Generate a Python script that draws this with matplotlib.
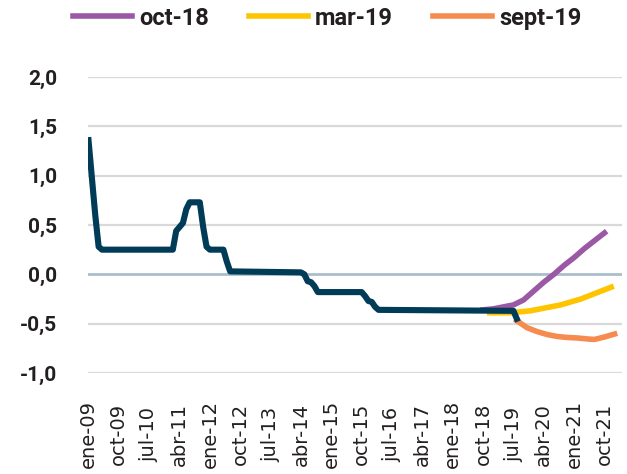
import matplotlib
matplotlib.use("Agg")
import matplotlib.pyplot as plt

MONTHS = {'ene': 1, 'feb': 2, 'mar': 3, 'abr': 4, 'may': 5, 'jun': 6,
          'jul': 7, 'ago': 8, 'sept': 9, 'oct': 10, 'nov': 11, 'dic': 12}

# observed rate (break points of the monthly series)
hist_dates = ['2009-01', '2009-02', '2009-03', '2009-04', '2009-05', '2011-02',
              '2011-03', '2011-04', '2011-05', '2011-06', '2011-07', '2011-10',
              '2011-11', '2011-12', '2012-01', '2012-05', '2012-06', '2012-07',
              '2014-04', '2014-05', '2014-06', '2014-07', '2014-08', '2014-09',
              '2015-10', '2015-11', '2015-12', '2016-01', '2016-02', '2016-03',
              '2019-07', '2019-08']
hist_vals = [1.36, 0.98, 0.60, 0.28, 0.25, 0.25,
             0.44, 0.48, 0.52, 0.66, 0.73, 0.73,
             0.48, 0.28, 0.25, 0.25, 0.13, 0.03,
             0.02, 0.00, -0.07, -0.08, -0.12, -0.18,
             -0.18, -0.22, -0.27, -0.28, -0.33, -0.36,
             -0.37, -0.45]

# market expectations
oct18_dates = ['2018-10', '2019-01', '2019-04', '2019-07', '2019-10', '2020-01', '2020-04',
               '2020-07', '2020-10', '2021-01', '2021-04', '2021-07', '2021-10']
oct18_vals = [-0.36, -0.35, -0.33, -0.31, -0.26, -0.17, -0.08, 0.00, 0.09, 0.17, 0.26, 0.34, 0.42]

mar19_dates = ['2018-12', '2019-03', '2019-06', '2019-09', '2019-12', '2020-03', '2020-06',
               '2020-09', '2020-12', '2021-03', '2021-06', '2021-09', '2021-12']
mar19_vals = [-0.39, -0.39, -0.39, -0.38, -0.37, -0.35, -0.33, -0.31, -0.28, -0.25, -0.21, -0.17, -0.13]

sep19_dates = ['2019-08', '2019-11', '2020-02', '2020-05', '2020-08', '2020-11', '2021-02',
               '2021-05', '2021-07', '2021-10', '2022-01']
sep19_vals = [-0.47, -0.54, -0.58, -0.61, -0.63, -0.64, -0.645, -0.655, -0.66, -0.635, -0.605]

tick_labels = ['ene-09', 'oct-09', 'jul-10', 'abr-11', 'ene-12', 'oct-12', 'jul-13', 'abr-14',
               'ene-15', 'oct-15', 'jul-16', 'abr-17', 'ene-18', 'oct-18', 'jul-19', 'abr-20',
               'ene-21', 'oct-21']
y_ticks = [-1.0, -0.5, 0.0, 0.5, 1.0, 1.5, 2.0]


def month_index(d):
    y, m = d.split('-')
    return (int(y) - 2009) * 12 + int(m) - 1


def label_index(lbl):
    mon, yy = lbl.split('-')
    return (int(yy) - 9) * 12 + MONTHS[mon] - 1


fig = plt.figure(figsize=(6.27, 4.74), dpi=100)
ax = fig.add_axes([88 / 627, 101 / 474, 534 / 627, 296 / 474])

for yv in y_ticks:
    if yv == 0:
        ax.axhline(yv, color='#a9bfcc', lw=2.0, zorder=1)
    else:
        ax.axhline(yv, color='#d9d9d9', lw=1.6, zorder=1)

ax.plot([month_index(d) for d in oct18_dates], oct18_vals, color='#9b59a5', lw=4.0,
        label='oct-18', zorder=3)
ax.plot([month_index(d) for d in mar19_dates], mar19_vals, color='#ffc400', lw=4.0,
        label='mar-19', zorder=3)
ax.plot([month_index(d) for d in sep19_dates], sep19_vals, color='#f68b50', lw=4.0,
        label='sept-19', zorder=3)
ax.plot([month_index(d) for d in hist_dates], hist_vals, color='#003b58', lw=4.4,
        zorder=4, solid_joinstyle='round')

ax.set_xlim(-0.15, 158.2)
ax.set_ylim(-1.0, 2.0)
for s in ax.spines.values():
    s.set_visible(False)

ax.set_yticks(y_ticks)
ax.set_yticklabels([f'{v:.1f}'.replace('.', ',') for v in y_ticks],
                   fontfamily='Roboto', fontweight='semibold', fontsize=15, color='#231f20')
ax.tick_params(axis='y', length=0, pad=22)

ax.set_xticks([label_index(l) for l in tick_labels])
ax.set_xticklabels(tick_labels, rotation=90, fontfamily='DejaVu Sans', fontsize=14,
                   color='#231f20', va='center')
ax.tick_params(axis='x', length=0, pad=44)

fig.legend(loc='center', bbox_to_anchor=(0.522, 0.962), ncol=3, frameon=False,
           prop={'family': 'Roboto', 'weight': 'semibold', 'size': 17},
           handlelength=2.5, handletextpad=0.3, columnspacing=1.7, labelcolor='#231f20')

fig.savefig('out.png', dpi=100)
